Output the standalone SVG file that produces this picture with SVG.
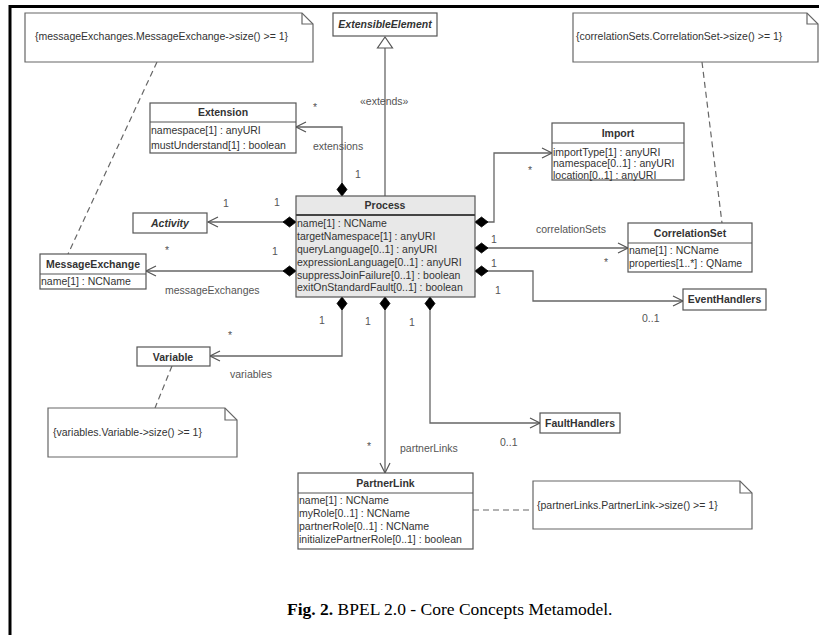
<svg xmlns="http://www.w3.org/2000/svg" width="819" height="635" viewBox="0 0 819 635">
  <style>
    .box { fill: #ffffff; stroke: #555555; stroke-width: 1.2; }
    .proc { fill: #e8e8e8; stroke: #555555; stroke-width: 1.2; }
    .sep { stroke: #555555; stroke-width: 1.2; }
    .sep2 { stroke: #444444; stroke-width: 2; }
    .note { fill: #ffffff; stroke: #666666; stroke-width: 1.2; }
    .fold { fill: none; stroke: #666666; stroke-width: 1.2; }
    .t { font-family: "Liberation Sans", Arial, sans-serif; font-size: 10.5px; fill: #333333; }
    .h { font-family: "Liberation Sans", Arial, sans-serif; font-size: 10.5px; font-weight: bold; fill: #333333; text-anchor: middle; }
    .i { font-style: italic; }
    .lbl { font-family: "Liberation Sans", Arial, sans-serif; font-size: 10.5px; fill: #555555; }
    .c { text-anchor: middle; }
    .assoc { fill: none; stroke: #666666; stroke-width: 1.3; marker-start: url(#diamond); marker-end: url(#open); }
    .dash { fill: none; stroke: #666666; stroke-width: 1.2; stroke-dasharray: 6 4; }
    .frame { stroke: #000000; stroke-width: 3; fill: none; }
    .cap { font-family: "Liberation Serif", "Times New Roman", serif; font-size: 17.5px; fill: #000000; }
  </style>
  <defs>
    <marker id="open" markerUnits="userSpaceOnUse" markerWidth="12" markerHeight="12" refX="10" refY="5" orient="auto" overflow="visible">
      <path d="M0,0 L10,5 L0,10" fill="none" stroke="#555555" stroke-width="1.2"/>
    </marker>
    <marker id="diamond" markerUnits="userSpaceOnUse" markerWidth="14" markerHeight="12" refX="0" refY="5" orient="auto" overflow="visible">
      <path d="M0,5 L6.5,0 L13,5 L6.5,10 Z" fill="#000000" stroke="#000000" stroke-width="0.8"/>
    </marker>
  </defs>

  <rect width="819" height="635" fill="#ffffff"/>
  <!-- page frame -->
  <path class="frame" d="M10,635 V6.5 H819"/>

  <!-- associations, generalization and note anchors -->
  <g id="connectors">
    <line x1="385" y1="48" x2="385" y2="196" stroke="#666666" stroke-width="1.3"/>
    <polygon points="385,37 377.5,48 392.5,48" fill="#ffffff" stroke="#555555" stroke-width="1.2"/>
    <polyline class="assoc" points="342,196 342,127 296,127"/>
    <polyline class="assoc" points="296,222 208,222"/>
    <polyline class="assoc" points="296,271 146,271"/>
    <polyline class="assoc" points="342,297 342,356 210,356"/>
    <polyline class="assoc" points="385,297 385,473"/>
    <polyline class="assoc" points="430,297 430,423 540,423"/>
    <polyline class="assoc" points="475,222 494,222 494,153 552,153"/>
    <polyline class="assoc" points="475,248 628,248"/>
    <polyline class="assoc" points="475,271 533,271 533,301 683,301"/>
    <line class="dash" x1="157" y1="62" x2="68" y2="254"/>
    <line class="dash" x1="702" y1="62" x2="722" y2="223"/>
    <line class="dash" x1="172" y1="366" x2="155" y2="408"/>
    <line class="dash" x1="473" y1="510" x2="533" y2="510"/>

    <text class="lbl" x="360" y="105">«extends»</text>
    <text class="lbl c" x="315" y="111">*</text>
    <text class="lbl" x="313" y="150">extensions</text>
    <text class="lbl c" x="358" y="178">1</text>
    <text class="lbl c" x="226" y="207">1</text>
    <text class="lbl c" x="277" y="206">1</text>
    <text class="lbl c" x="167" y="254">*</text>
    <text class="lbl c" x="275" y="255">1</text>
    <text class="lbl" x="165" y="294">messageExchanges</text>
    <text class="lbl c" x="322" y="324">1</text>
    <text class="lbl c" x="230" y="339">*</text>
    <text class="lbl" x="230" y="378">variables</text>
    <text class="lbl c" x="368" y="325">1</text>
    <text class="lbl c" x="369" y="450">*</text>
    <text class="lbl" x="400" y="452">partnerLinks</text>
    <text class="lbl c" x="412" y="326">1</text>
    <text class="lbl" x="500" y="446">0..1</text>
    <text class="lbl c" x="530" y="174">*</text>
    <text class="lbl" x="536" y="233">correlationSets</text>
    <text class="lbl c" x="494" y="243">1</text>
    <text class="lbl c" x="606" y="266">*</text>
    <text class="lbl c" x="494" y="267">1</text>
    <text class="lbl c" x="498" y="294">1</text>
    <text class="lbl" x="642" y="322">0..1</text>
  </g>

  <!-- constraint notes -->
  <g id="note-messageExchanges">
    <path class="note" d="M25,13 H302 L313,24 V62 H25 Z"/>
    <path class="fold" d="M302,13 V24 H313"/>
    <text class="t" x="35" y="40">{messageExchanges.MessageExchange-&gt;size() &gt;= 1}</text>
  </g>
  <g id="note-correlationSets">
    <path class="note" d="M573,13 H807 L818,24 V62 H573 Z"/>
    <path class="fold" d="M807,13 V24 H818"/>
    <text class="t" x="576" y="40">{correlationSets.CorrelationSet-&gt;size() &gt;= 1}</text>
  </g>
  <g id="note-variables">
    <path class="note" d="M48,408 H225 L237,420 V457 H48 Z"/>
    <path class="fold" d="M225,408 V420 H237"/>
    <text class="t" x="53" y="436">{variables.Variable-&gt;size() &gt;= 1}</text>
  </g>
  <g id="note-partnerLinks">
    <path class="note" d="M533,481 H740 L752,493 V529 H533 Z"/>
    <path class="fold" d="M740,481 V493 H752"/>
    <text class="t" x="537" y="509">{partnerLinks.PartnerLink-&gt;size() &gt;= 1}</text>
  </g>

  <!-- classes -->
  <g id="ExtensibleElement">
    <rect class="box" x="333" y="13" width="104" height="23"/>
    <text class="h i" x="385" y="28" font-weight="normal">ExtensibleElement</text>
  </g>
  <g id="Extension">
    <rect class="box" x="150" y="103" width="146" height="50"/>
    <line class="sep" x1="150" y1="122" x2="296" y2="122"/>
    <text class="h" x="223" y="116">Extension</text>
    <text class="t" x="151" y="134">namespace[1] : anyURI</text>
    <text class="t" x="151" y="149">mustUnderstand[1] : boolean</text>
  </g>
  <g id="Process">
    <rect class="proc" x="296" y="196" width="179" height="101"/>
    <line class="sep2" x1="296" y1="215" x2="475" y2="215"/>
    <text class="h" x="385" y="209">Process</text>
    <text class="t" x="297" y="227">name[1] : NCName</text>
    <text class="t" x="297" y="240">targetNamespace[1] : anyURI</text>
    <text class="t" x="297" y="253">queryLanguage[0..1] : anyURI</text>
    <text class="t" x="297" y="265.5">expressionLanguage[0..1] : anyURI</text>
    <text class="t" x="297" y="278.5">suppressJoinFailure[0..1] : boolean</text>
    <text class="t" x="297" y="291">exitOnStandardFault[0..1] : boolean</text>
  </g>
  <g id="Activity">
    <rect class="box" x="133" y="213" width="74" height="20"/>
    <text class="h i" x="170" y="227">Activity</text>
  </g>
  <g id="MessageExchange">
    <rect class="box" x="40" y="254" width="106" height="35"/>
    <line class="sep" x1="40" y1="274" x2="146" y2="274"/>
    <text class="h" x="93" y="268">MessageExchange</text>
    <text class="t" x="41" y="285">name[1] : NCName</text>
  </g>
  <g id="Variable">
    <rect class="box" x="137" y="347" width="73" height="19"/>
    <text class="h" x="173" y="360.5">Variable</text>
  </g>
  <g id="Import">
    <rect class="box" x="552" y="123" width="132" height="57"/>
    <line class="sep" x1="552" y1="143" x2="684" y2="143"/>
    <text class="h" x="618" y="137">Import</text>
    <text class="t" x="553" y="156">importType[1] : anyURI</text>
    <text class="t" x="553" y="167">namespace[0..1] : anyURI</text>
    <text class="t" x="553" y="178.5">location[0..1] : anyURI</text>
  </g>
  <g id="CorrelationSet">
    <rect class="box" x="628" y="223" width="124" height="49"/>
    <line class="sep" x1="628" y1="243" x2="752" y2="243"/>
    <text class="h" x="690" y="237">CorrelationSet</text>
    <text class="t" x="629" y="254">name[1] : NCName</text>
    <text class="t" x="629" y="267">properties[1..*] : QName</text>
  </g>
  <g id="EventHandlers">
    <rect class="box" x="683" y="289" width="83" height="21"/>
    <text class="h" x="724.5" y="303">EventHandlers</text>
  </g>
  <g id="FaultHandlers">
    <rect class="box" x="540" y="413" width="80" height="20"/>
    <text class="h" x="580" y="427">FaultHandlers</text>
  </g>
  <g id="PartnerLink">
    <rect class="box" x="298" y="473" width="175" height="76"/>
    <line class="sep" x1="298" y1="493" x2="473" y2="493"/>
    <text class="h" x="385.5" y="487">PartnerLink</text>
    <text class="t" x="299" y="503.5">name[1] : NCName</text>
    <text class="t" x="299" y="516.5">myRole[0..1] : NCName</text>
    <text class="t" x="299" y="530">partnerRole[0..1] : NCName</text>
    <text class="t" x="299" y="543">initializePartnerRole[0..1] : boolean</text>
  </g>

  <!-- caption -->
  <text class="cap" x="287" y="615"><tspan font-weight="bold">Fig. 2.</tspan> BPEL 2.0 - Core Concepts Metamodel.</text>
</svg>
